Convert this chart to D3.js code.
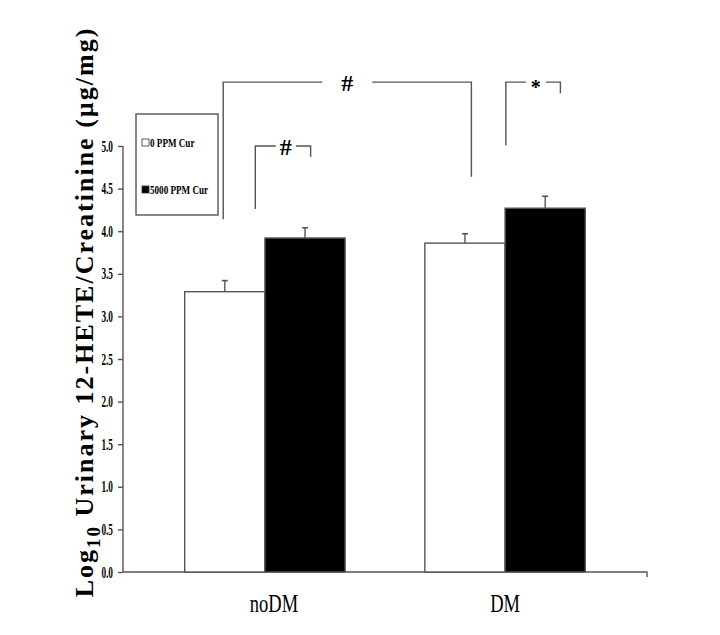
<!DOCTYPE html>
<html>
<head>
<meta charset="utf-8">
<script src="https://cdn.jsdelivr.net/npm/d3@7"></script>
<style>
  body { margin: 0; background: #fff; }
  text { font-family: "Liberation Serif", "Times New Roman", serif; }
</style>
</head>
<body>
<svg width="720" height="635"></svg>
<script>
// data
const groups = ["noDM", "DM"];
const series = ["0 PPM Cur", "5000 PPM Cur"];
const means = [[3.29, 3.92], [3.86, 4.27]];
const errs  = [[0.13, 0.12], [0.11, 0.14]];
const yTicks = [0, 0.5, 1, 1.5, 2, 2.5, 3, 3.5, 4, 4.5, 5];
const fills = ["#fff", "#000"];

// significance brackets: group, left/right position in bar units, y values
const brackets = [
  { g: "noDM", g2: "DM", l: 0.48, r: 0.58, top: 5.75, lBot: 4.14, rBot: 4.64, mark: "#" },
  { g: "noDM", g2: "noDM", l: 0.88, r: 1.57, top: 5.0, lBot: 4.26, rBot: 4.87, mark: "#" },
  { g: "DM", g2: "DM", l: 1.01, r: 1.69, top: 5.75, lBot: 5.01, rBot: 5.62, mark: "*" }
];

const svg = d3.select("svg");
const grey = "#555";

// scales
let x = d3.scaleBand().domain(groups).range([123, 647]).paddingInner(0.332).paddingOuter(0.257);
let xs = d3.scaleBand().domain(series).range([0, x.bandwidth()]);
let y = d3.scaleLinear().domain([0, 5]).range([572, 146]);

// axes
let yAxis = svg.append("g").attr("transform", "translate(123,0)")
  .call(d3.axisLeft(y).tickValues(yTicks).tickSize(5).tickPadding(6).tickFormat(d3.format(".1f")));
yAxis.select(".domain").attr("d", `M0,${y(5)}V${y(0)}`);
yAxis.selectAll("line, path").attr("stroke", grey).attr("stroke-width", 1.4);
yAxis.selectAll("text").attr("font-size", 16).attr("fill", "#000")
  .attr("font-family", "Liberation Serif").attr("font-weight", "bold")
  .attr("transform", "translate(-10,0) scale(0.58,1)")
  .attr("x", 0);

// x baseline
svg.append("path")
  .attr("d", `M123,${y(0)}H647V${y(0) + 5}`)
  .attr("fill", "none").attr("stroke", grey).attr("stroke-width", 1.4);

// bars
let gs = svg.selectAll("g.grp").data(groups).join("g").attr("class", "grp")
  .attr("transform", d => `translate(${x(d)},0)`);

gs.each(function(gName, gi) {
  let g = d3.select(this);
  series.forEach((s, si) => {
    let v = means[gi][si], e = errs[gi][si];
    let cx = xs(s) + xs.bandwidth() / 2;
    g.append("line").attr("x1", cx).attr("x2", cx).attr("y1", y(v)).attr("y2", y(v + e))
      .attr("stroke", grey).attr("stroke-width", 1.4);
    g.append("line").attr("x1", cx - 3).attr("x2", cx + 3).attr("y1", y(v + e)).attr("y2", y(v + e))
      .attr("stroke", grey).attr("stroke-width", 1.6);
    g.append("rect").attr("x", xs(s)).attr("width", xs.bandwidth())
      .attr("y", y(v)).attr("height", y(0) - y(v))
      .attr("fill", fills[si]).attr("stroke", grey).attr("stroke-width", 1.4);
  });
});

// category labels
svg.selectAll("text.cat").data(groups).join("text").attr("class", "cat")
  .attr("transform", (d, i) => `translate(${i === 0 ? x(d) + x.bandwidth() / 2 + 9 : x(d) + x.bandwidth() / 2},612) scale(0.74,1)`)
  .attr("text-anchor", "middle").attr("font-size", 25)
  .text(d => d);

// brackets
const unit = xs.bandwidth();
brackets.forEach(b => {
  let lx = x(b.g) + b.l * unit, rx = x(b.g2) + b.r * unit, ty = y(b.top);
  let mx = (lx + rx) / 2;
  let gap = b.g === b.g2 ? 10 : 25;
  if (b.g === b.g2) mx = lx + (rx - lx) * 0.55;
  svg.append("path")
    .attr("d", `M${lx},${y(b.lBot)}V${ty}H${mx - gap}M${mx + gap},${ty}H${rx}V${y(b.rBot)}`)
    .attr("fill", "none").attr("stroke", grey).attr("stroke-width", 1.4);
  svg.append("text").attr("x", mx).attr("y", ty + (b.mark === "*" ? 12 : 9))
    .attr("text-anchor", "middle").attr("font-size", b.mark === "*" ? 20 : 24)
    .attr("font-weight", "bold")
    .text(b.mark);
});

// legend
let leg = svg.append("g");
leg.append("rect").attr("x", 136).attr("y", 114).attr("width", 82).attr("height", 101)
  .attr("fill", "#fff").attr("stroke", grey).attr("stroke-width", 1.4);
series.forEach((s, i) => {
  let ly = 143 + i * 47;
  leg.append("rect").attr("x", 142).attr("y", ly - 4).attr("width", 7).attr("height", 7)
    .attr("fill", fills[i]).attr("stroke", "#333").attr("stroke-width", 0.8);
  leg.append("text").attr("transform", `translate(150,${ly + 4}) scale(0.7,1)`)
    .attr("font-size", 13).attr("font-weight", "bold").text(s);
});

// y title
let yt = svg.append("text")
  .attr("transform", "translate(93,312) rotate(-90)")
  .attr("text-anchor", "middle").attr("font-size", 26).attr("font-weight", "bold")
  .attr("letter-spacing", 2);
yt.append("tspan").text("Log");
yt.append("tspan").attr("dy", 7).attr("font-size", 19).text("10");
yt.append("tspan").attr("dy", -7).text(" Urinary 12-HETE/Creatinine (µg/mg)");
</script>
</body>
</html>
